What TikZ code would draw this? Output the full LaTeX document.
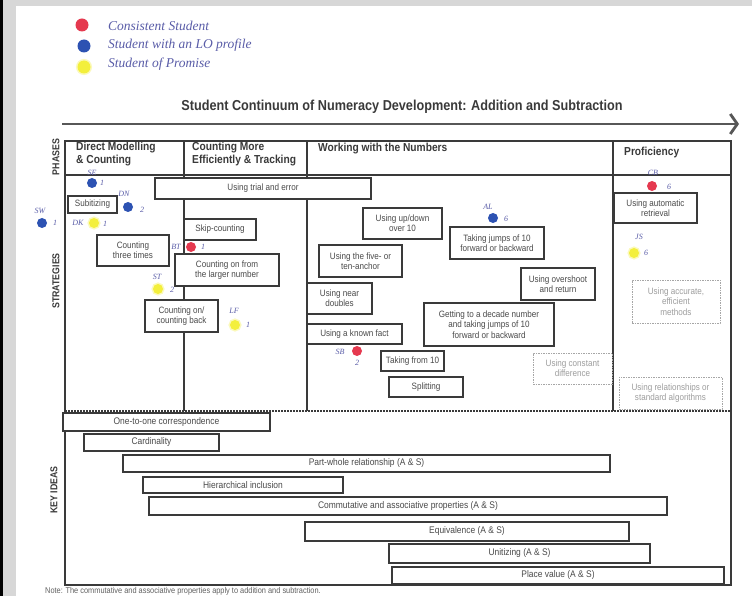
\documentclass[tikz,border=0pt]{standalone}
\usepackage{fontspec}
\setmainfont{Liberation Sans}
\newfontfamily\condfont[FakeStretch=0.88]{Liberation Sans}
\newfontfamily\handfont{Liberation Serif}
\usetikzlibrary{arrows.meta}

\definecolor{scanbg}{HTML}{D7D7D7}
\definecolor{ink}{HTML}{3A3A3A}
\definecolor{boxtext}{HTML}{4A4A4A}
\definecolor{pen}{HTML}{5A5DA8}
\definecolor{dotred}{HTML}{E5394F}
\definecolor{dotblue}{HTML}{2D52B2}
\definecolor{dotyellow}{HTML}{F3EF3C}

\tikzset{
  frame/.style={draw=ink, line width=1.2pt},
  stratbox/.style={draw=ink, line width=1.1pt, fill=white, inner sep=0pt, align=center,
    text=boxtext, font=\condfont\fontsize{9.2}{10.4}\selectfont},
  maybebox/.style={stratbox, draw=ink!45, dash pattern=on 1.5pt off 1pt, line width=0.8pt, text=ink!50},
  ideabar/.style={draw=ink, line width=1.3pt, fill=white, inner sep=0pt, text=boxtext,
    font=\condfont\fontsize{9.6}{10}\selectfont},
  phasehead/.style={anchor=north west, align=left, inner sep=0pt, text=ink,
    font=\condfont\bfseries\fontsize{11.6}{13}\selectfont},
  sidelabel/.style={rotate=90, inner sep=0pt, text=ink, font=\condfont\bfseries\fontsize{10}{11}\selectfont},
  pentext/.style={inner sep=0pt, text=pen, font=\handfont\itshape\fontsize{8}{9}\selectfont},
  legendtext/.style={anchor=west, inner sep=0pt, text=pen, font=\handfont\itshape\fontsize{13.5}{15}\selectfont},
  reddot/.style={circle, fill=dotred, minimum size=10pt, inner sep=0pt},
  bluedot/.style={circle, fill=dotblue, minimum size=10pt, inner sep=0pt},
  yellowdot/.style={circle, fill=dotyellow, minimum size=10pt, inner sep=0pt,
    preaction={draw=dotyellow!35, line width=3pt}},
}

\begin{document}
\begin{tikzpicture}[x=1pt, y=-1pt]
\useasboundingbox (0,0) rectangle (752,596);
\fill[white] (0,0) rectangle (752,596);

% scanner margins
\fill[scanbg] (0,0) rectangle (752,6);
\fill[scanbg] (0,0) rectangle (16,596);
\fill[black] (0,0) rectangle (2.7,596);

% legend
\node[reddot, minimum size=13pt] (legred) at (82,25) {};
\node[bluedot, minimum size=13pt] (legblue) at (84,46) {};
\node[yellowdot, minimum size=13pt] (legyellow) at (84,67) {};
\node[legendtext] (legredtxt) at (108,26) {Consistent Student};
\node[legendtext] (legbluetxt) at (108,45) {Student with an LO profile};
\node[legendtext] (legyellowtxt) at (108,64) {Student of Promise};

% title and progression arrow
\node[inner sep=0pt, text=ink, font=\condfont\bfseries\fontsize{14.4}{16}\selectfont] (title) at (402,107)
  {Student Continuum of Numeracy Development: Addition and Subtraction};
\coordinate (arrowtail) at (62,124);
\coordinate (arrowtip) at (739,124);
\draw[ink!85, line width=2.8pt, -{Straight Barb[length=7pt, width=20pt]}] (arrowtail) -- (arrowtip);

% table frame
\coordinate (tl) at (65,141);
\coordinate (br) at (731,585);
\draw[frame] (tl) rectangle (br);
\draw[frame] (65,175) -- (731,175);
\draw[frame] (184,141) -- (184,411);
\draw[frame] (307,141) -- (307,411);
\draw[frame] (613,141) -- (613,411);
\draw[ink, line width=1.6pt, dash pattern=on 2pt off 1pt] (65,411) -- (731,411);

% side labels
\node[sidelabel] (lblphases) at (56,157) {PHASES};
\node[sidelabel] (lblstrat) at (56,281) {STRATEGIES};
\node[sidelabel] (lblideas) at (54,490) {KEY IDEAS};

% phase headings
\node[phasehead] (ph1) at (76,142) {Direct Modelling\\\& Counting};
\node[phasehead] (ph2) at (192,142) {Counting More\\Efficiently \& Tracking};
\node[phasehead] (ph3) at (318,143) {Working with the Numbers};
\node[phasehead] (ph4) at (624,147) {Proficiency};

% strategies
\node[stratbox, minimum width=216pt, minimum height=21pt] (trial) at (263,188.5) {Using trial and error};
\node[stratbox, minimum width=49pt, minimum height=17pt] (subit) at (92.5,204.5) {Subitizing};
\node[stratbox, minimum width=72pt, minimum height=31pt] (three) at (133,250.5) {Counting\\three times};
\node[stratbox, minimum width=72pt, minimum height=21pt] (skip) at (220,229.5) {Skip-counting};
\node[stratbox, minimum width=104pt, minimum height=32pt] (larger) at (227,270) {Counting on from\\the larger number};
\node[stratbox, minimum width=73pt, minimum height=32pt] (onback) at (181.5,316) {Counting on/\\counting back};
\node[stratbox, minimum width=79pt, minimum height=31pt] (updown) at (402.5,223.5) {Using up/down\\over 10};
\node[stratbox, minimum width=94pt, minimum height=32pt] (jumps) at (497,243) {Taking jumps of 10\\forward or backward};
\node[stratbox, minimum width=83pt, minimum height=32pt] (anchor) at (360.5,261) {Using the five- or\\ten-anchor};
\node[stratbox, minimum width=65pt, minimum height=31pt] (near) at (339.5,298.5) {Using near\\doubles};
\node[stratbox, minimum width=74pt, minimum height=32pt] (overshoot) at (558,284) {Using overshoot\\and return};
\node[stratbox, minimum width=130pt, minimum height=43pt] (decade) at (489,324.5) {Getting to a decade number\\and taking jumps of 10\\forward or backward};
\node[stratbox, minimum width=95pt, minimum height=20pt] (known) at (354.5,334) {Using a known fact};
\node[stratbox, minimum width=63pt, minimum height=20pt] (from10) at (412.5,361) {Taking from 10};
\node[stratbox, minimum width=74pt, minimum height=20pt] (split) at (426,387) {Splitting};
\node[maybebox, minimum width=79pt, minimum height=31pt] (constdiff) at (572.5,368.5) {Using constant\\difference};
\node[stratbox, minimum width=83pt, minimum height=30pt] (auto) at (655.5,208) {Using automatic\\retrieval};
\node[maybebox, minimum width=88pt, minimum height=43pt] (accurate) at (676,301.5) {Using accurate,\\efficient\\methods};
\node[maybebox, minimum width=103pt, minimum height=32pt] (algo) at (670.5,393) {Using relationships or\\standard algorithms};

% key ideas
\node[ideabar, minimum width=207pt, minimum height=18pt] (onetoone) at (166.5,422) {One-to-one correspondence};
\node[ideabar, minimum width=135pt, minimum height=17pt] (cardinal) at (151.5,442.5) {Cardinality};
\node[ideabar, minimum width=487pt, minimum height=17pt] (partwhole) at (366.5,463.5) {Part-whole relationship (A \& S)};
\node[ideabar, minimum width=200pt, minimum height=16pt] (hier) at (243,485) {Hierarchical inclusion};
\node[ideabar, minimum width=518pt, minimum height=18pt] (commut) at (408,506) {Commutative and associative properties (A \& S)};
\node[ideabar, minimum width=324pt, minimum height=19pt] (equiv) at (467,531.5) {Equivalence (A \& S)};
\node[ideabar, minimum width=261pt, minimum height=19pt] (unit) at (519.5,553.5) {Unitizing (A \& S)};
\node[ideabar, minimum width=332pt, minimum height=17pt] (place) at (558,575.5) {Place value (A \& S)};

% student markers
\node[pentext] (seinit) at (92,173) {SE};
\node[bluedot] (sedot) at (92,183) {};
\node[pentext] (senum) at (102,183) {1};
\node[pentext] (dninit) at (124,194) {DN};
\node[bluedot] (dndot) at (128,207) {};
\node[pentext] (dnnum) at (142,210) {2};
\node[pentext] (swinit) at (40,211) {SW};
\node[bluedot] (swdot) at (42,223) {};
\node[pentext] (swnum) at (55,223) {1};
\node[pentext] (dkinit) at (78,223) {DK};
\node[yellowdot] (dkdot) at (94,223) {};
\node[pentext] (dknum) at (105,224) {1};
\node[pentext] (btinit) at (176,247) {BT};
\node[reddot] (btdot) at (191,247) {};
\node[pentext] (btnum) at (203,247) {1};
\node[pentext] (stinit) at (157,277) {ST};
\node[yellowdot] (stdot) at (158,289) {};
\node[pentext] (stnum) at (172,290) {2};
\node[pentext] (lfinit) at (234,311) {LF};
\node[yellowdot] (lfdot) at (235,325) {};
\node[pentext] (lfnum) at (248,325) {1};
\node[pentext] (alinit) at (488,207) {AL};
\node[bluedot] (aldot) at (493,218) {};
\node[pentext] (alnum) at (506,219) {6};
\node[pentext] (sbinit) at (340,352) {SB};
\node[reddot] (sbdot) at (357,351) {};
\node[pentext] (sbnum) at (357,363) {2};
\node[pentext] (cbinit) at (653,173) {CB};
\node[reddot] (cbdot) at (652,186) {};
\node[pentext] (cbnum) at (669,187) {6};
\node[pentext] (jsinit) at (639,237) {JS};
\node[yellowdot] (jsdot) at (634,253) {};
\node[pentext] (jsnum) at (646,253) {6};

% footnote
\node[anchor=west, inner sep=0pt, text=ink!80, font=\condfont\fontsize{8.4}{9}\selectfont] (note) at (45,591)
  {Note: The commutative and associative properties apply to addition and subtraction.};
\end{tikzpicture}
\end{document}
